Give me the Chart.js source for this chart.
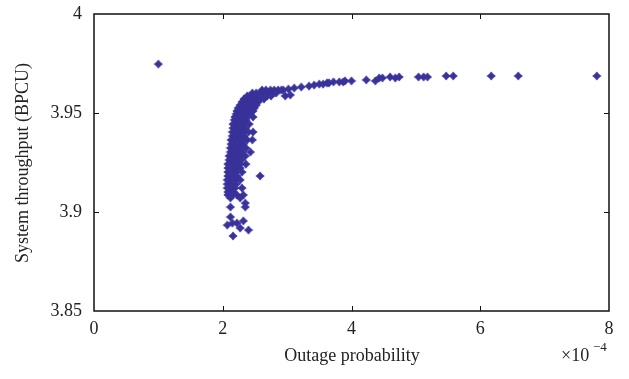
<!DOCTYPE html>
<html>
<head>
<meta charset="utf-8">
<script src="https://cdn.jsdelivr.net/npm/chart.js@4.4.1/dist/chart.umd.min.js"></script>
<style>
  html, body { margin: 0; padding: 0; background: #fff; }
  #wrap { width: 629px; height: 379px; position: relative; }
</style>
</head>
<body>
<div id="wrap"><canvas id="cv"></canvas></div>
<script>
// outage probability in units of 1e-4, throughput in BPCU
const outlierX = [1.00];
const outlierY = [3.9747];

// upper tail, running to the right
const tailX = [2.94, 3.02, 3.11, 3.22, 3.34, 3.42, 3.50, 3.56, 3.62, 3.65, 3.72, 3.81, 3.87, 3.90, 4.00,
               4.23, 4.37, 4.43, 4.48, 4.60, 4.68, 4.74, 5.04, 5.12, 5.18, 5.47, 5.58, 6.17, 6.59, 7.81,
               2.97, 3.05];
const tailY = [3.9616, 3.9621, 3.9626, 3.9631, 3.9636, 3.9641, 3.9646, 3.9646, 3.9652, 3.9652, 3.9657, 3.9657, 3.9657, 3.9662, 3.9662,
               3.9667, 3.9662, 3.9677, 3.9677, 3.9682, 3.9677, 3.9682, 3.9682, 3.9682, 3.9682, 3.9687, 3.9687, 3.9687, 3.9687, 3.9687,
               3.9586, 3.9591];

// dense vertical band, one row per throughput level
const bandY = [3.9616, 3.9601, 3.9586, 3.9571, 3.9556, 3.9540, 3.9525, 3.9510, 3.9495, 3.9480, 3.9465, 3.9444,
               3.9424, 3.9404, 3.9384, 3.9364, 3.9343, 3.9323, 3.9303, 3.9283, 3.9263, 3.9242, 3.9222, 3.9202,
               3.9182, 3.9162, 3.9141, 3.9121, 3.9101, 3.9086, 3.9071];
const bandX = [
  [2.61, 2.67, 2.74, 2.80, 2.86, 2.91],
  [2.46, 2.52, 2.58, 2.64, 2.71, 2.77, 2.83],
  [2.38, 2.44, 2.50, 2.57, 2.63, 2.69, 2.75],
  [2.33, 2.40, 2.46, 2.52, 2.58, 2.64],
  [2.30, 2.36, 2.43, 2.49, 2.55],
  [2.27, 2.33, 2.40, 2.46, 2.52],
  [2.24, 2.30, 2.36, 2.43, 2.49],
  [2.22, 2.29, 2.35, 2.41, 2.47],
  [2.21, 2.27, 2.33, 2.40],
  [2.19, 2.26, 2.32, 2.38, 2.47],
  [2.18, 2.24, 2.30, 2.36],
  [2.16, 2.22, 2.29, 2.35, 2.41],
  [2.16, 2.22, 2.29, 2.35],
  [2.15, 2.21, 2.27, 2.33, 2.40, 2.47],
  [2.15, 2.21, 2.27, 2.33],
  [2.13, 2.19, 2.26, 2.32, 2.38, 2.46],
  [2.13, 2.19, 2.26, 2.32],
  [2.12, 2.18, 2.24, 2.30, 2.36],
  [2.12, 2.18, 2.24, 2.30, 2.43],
  [2.10, 2.16, 2.22, 2.29, 2.35],
  [2.10, 2.16, 2.22, 2.29],
  [2.08, 2.15, 2.21, 2.27, 2.36],
  [2.08, 2.15, 2.21, 2.27],
  [2.08, 2.15, 2.21, 2.30],
  [2.08, 2.15, 2.22],
  [2.07, 2.13, 2.19, 2.27],
  [2.07, 2.13, 2.21],
  [2.07, 2.13, 2.19, 2.30],
  [2.08, 2.16],
  [2.08, 2.15, 2.22, 2.32],
  [2.12, 2.27]
];

// loose points below / right of the band
const strayX = [2.58, 2.35, 2.12, 2.35, 2.12, 2.32, 2.15, 2.22, 2.07, 2.27, 2.40, 2.16];
const strayY = [3.9182, 3.9045, 3.9025, 3.9025, 3.8975, 3.8955, 3.8944, 3.8944, 3.8934, 3.8919, 3.8909, 3.8879];

const xTicks = [0, 2, 4, 6, 8];
const yTicks = [3.85, 3.9, 3.95, 4];
const yTickLabels = ['3.85', '3.9', '3.95', '4'];

const MARK = '#39329a';
const FONT = '"Liberation Serif", "DejaVu Serif", serif';

// small four-point star marker
function makeMarker() {
  const c = document.createElement('canvas');
  c.width = 10; c.height = 10;
  const g = c.getContext('2d');
  const cx = 5, cy = 5, ro = 4.6, ri = 3.0;
  g.fillStyle = MARK;
  g.beginPath();
  for (let k = 0; k < 8; k++) {
    const a = -Math.PI / 2 + k * Math.PI / 4;
    const r = k % 2 === 0 ? ro : ri;
    const px = cx + r * Math.cos(a), py = cy + r * Math.sin(a);
    if (k === 0) g.moveTo(px, py); else g.lineTo(px, py);
  }
  g.closePath();
  g.fill();
  return c;
}
const marker = makeMarker();

const pts = [];
outlierX.forEach((x, i) => pts.push({ x, y: outlierY[i] }));
tailX.forEach((x, i) => pts.push({ x, y: tailY[i] }));
bandY.forEach((y, r) => bandX[r].forEach(x => pts.push({ x, y })));
strayX.forEach((x, i) => pts.push({ x, y: strayY[i] }));

const framePlugin = {
  id: 'frame',
  afterDatasetsDraw(chart) {
    const { ctx, chartArea: a, scales: { x, y } } = chart;
    ctx.save();
    ctx.strokeStyle = '#111';
    ctx.lineWidth = 1.5;
    ctx.strokeRect(a.left, a.top, a.right - a.left, a.bottom - a.top);
    ctx.lineWidth = 1;
    ctx.beginPath();
    xTicks.slice(1, -1).forEach(v => {
      const px = Math.round(x.getPixelForValue(v)) + 0.5;
      ctx.moveTo(px, a.bottom); ctx.lineTo(px, a.bottom - 5);
      ctx.moveTo(px, a.top); ctx.lineTo(px, a.top + 5);
    });
    yTicks.slice(1, -1).forEach(v => {
      const py = Math.round(y.getPixelForValue(v)) + 0.5;
      ctx.moveTo(a.left, py); ctx.lineTo(a.left + 5, py);
      ctx.moveTo(a.right, py); ctx.lineTo(a.right - 5, py);
    });
    ctx.stroke();

    ctx.fillStyle = '#222';
    ctx.font = '18px ' + FONT;
    ctx.textAlign = 'center';
    ctx.textBaseline = 'middle';
    ctx.fillText('Outage probability', 352, 356);

    ctx.save();
    ctx.translate(23, 163);
    ctx.rotate(-Math.PI / 2);
    ctx.fillText('System throughput (BPCU)', 0, 0);
    ctx.restore();

    ctx.textAlign = 'left';
    ctx.fillText('\u00d710', 561, 356);
    ctx.font = '13px ' + FONT;
    ctx.fillText('\u22124', 593, 348);
    ctx.restore();
  }
};

new Chart(document.getElementById('cv'), {
  type: 'scatter',
  data: {
    datasets: [{
      data: pts,
      pointStyle: marker,
      pointRadius: 5,
      pointHoverRadius: 5,
      backgroundColor: MARK,
      borderColor: MARK
    }]
  },
  options: {
    responsive: true,
    maintainAspectRatio: false,
    animation: false,
    events: [],
    layout: { padding: { top: 14, right: 20, left: 0, bottom: 0 } },
    plugins: { legend: { display: false }, tooltip: { enabled: false } },
    scales: {
      x: {
        type: 'linear', min: 0, max: 8,
        afterBuildTicks: s => { s.ticks = xTicks.map(v => ({ value: v })); },
        afterFit: s => { s.height = 68; s.paddingLeft = 0; s.paddingRight = 0; },
        grid: { display: false, drawTicks: false },
        border: { display: false },
        ticks: { color: '#222', font: { family: FONT, size: 18 }, padding: 7, maxRotation: 0 }
      },
      y: {
        type: 'linear', min: 3.85, max: 4,
        afterBuildTicks: s => { s.ticks = yTicks.map(v => ({ value: v })); },
        afterFit: s => { s.width = 94; s.paddingTop = 0; s.paddingBottom = 0; },
        grid: { display: false, drawTicks: false },
        border: { display: false },
        ticks: {
          color: '#222', font: { family: FONT, size: 18 }, padding: 12,
          callback: v => yTickLabels[yTicks.indexOf(v)] ?? ''
        }
      }
    }
  },
  plugins: [framePlugin]
});
</script>
</body>
</html>
